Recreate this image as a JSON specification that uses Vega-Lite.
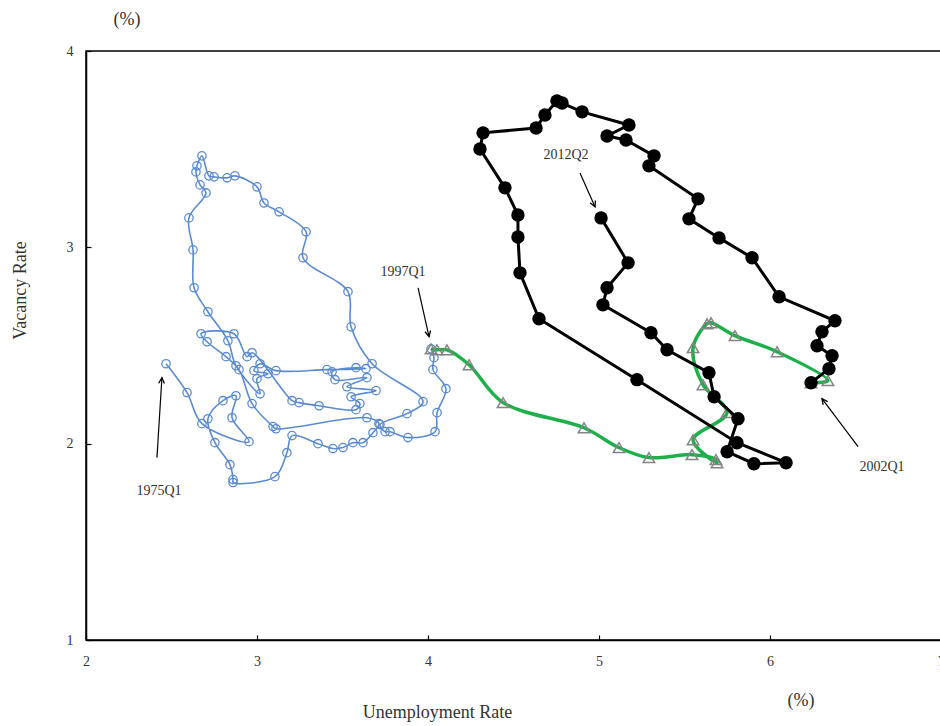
{
  "$schema": "https://vega.github.io/schema/vega-lite/v6.json",
  "width": 855,
  "height": 589,
  "autosize": {"type": "none"},
  "padding": {"left": 86, "top": 51, "right": 0, "bottom": 86},
  "background": "white",
  "config": {
    "view": {"stroke": "black", "strokeWidth": 1.5},
    "font": "Liberation Serif",
    "axis": {
      "grid": false,
      "domainColor": "black",
      "domainWidth": 1.5,
      "tickColor": "black",
      "tickWidth": 1.2,
      "labelFont": "Liberation Serif",
      "titleFont": "Liberation Serif",
      "labelFontSize": 14,
      "labelColor": "#333333",
      "titleColor": "#333333",
      "titleFontSize": 18,
      "titleFontWeight": "normal",
      "labelFlush": false,
      "labelOverlap": false
    }
  },
  "datasets": {
    "blue": [
      {"o":1,"x":2.468,"y":2.407},{"o":2,"x":2.591,"y":2.260},{"o":3,"x":2.678,"y":2.102},{"o":4,"x":2.953,"y":2.010},
      {"o":5,"x":2.854,"y":2.132},{"o":6,"x":2.877,"y":2.244},{"o":7,"x":2.801,"y":2.219},{"o":8,"x":2.713,"y":2.127},
      {"o":9,"x":2.754,"y":2.005},{"o":10,"x":2.842,"y":1.893},{"o":11,"x":2.860,"y":1.817},{"o":12,"x":2.860,"y":1.802},
      {"o":13,"x":3.105,"y":1.832},{"o":14,"x":3.175,"y":1.954},{"o":15,"x":3.205,"y":2.041},{"o":16,"x":3.357,"y":2.000},
      {"o":17,"x":3.444,"y":1.975},{"o":18,"x":3.503,"y":1.980},{"o":19,"x":3.561,"y":2.005},{"o":20,"x":3.620,"y":2.005},
      {"o":21,"x":3.678,"y":2.056},{"o":22,"x":3.713,"y":2.102},{"o":23,"x":3.643,"y":2.132},{"o":24,"x":3.111,"y":2.076},
      {"o":25,"x":3.094,"y":2.087},{"o":26,"x":2.971,"y":2.204},{"o":27,"x":2.895,"y":2.377},{"o":28,"x":2.819,"y":2.443},
      {"o":29,"x":2.708,"y":2.519},{"o":30,"x":2.673,"y":2.560},{"o":31,"x":2.865,"y":2.560},{"o":32,"x":2.942,"y":2.443},
      {"o":33,"x":2.971,"y":2.463},{"o":34,"x":3.205,"y":2.219},{"o":35,"x":3.246,"y":2.209},{"o":36,"x":3.363,"y":2.193},
      {"o":37,"x":3.579,"y":2.173},{"o":38,"x":3.602,"y":2.204},{"o":39,"x":3.550,"y":2.239},{"o":40,"x":3.696,"y":2.270},
      {"o":41,"x":3.526,"y":2.290},{"o":42,"x":3.643,"y":2.336},{"o":43,"x":3.456,"y":2.326},{"o":44,"x":3.439,"y":2.366},
      {"o":45,"x":3.579,"y":2.387},{"o":46,"x":3.637,"y":2.382},{"o":47,"x":3.409,"y":2.377},{"o":48,"x":3.111,"y":2.372},
      {"o":49,"x":3.018,"y":2.407},{"o":50,"x":2.982,"y":2.372},{"o":51,"x":3.064,"y":2.356},{"o":52,"x":3.000,"y":2.331},
      {"o":53,"x":3.018,"y":2.254},{"o":54,"x":2.877,"y":2.397},{"o":55,"x":2.830,"y":2.524},{"o":56,"x":2.713,"y":2.672},
      {"o":57,"x":2.632,"y":2.794},{"o":58,"x":2.626,"y":2.987},{"o":59,"x":2.602,"y":3.150},{"o":60,"x":2.702,"y":3.277},
      {"o":61,"x":2.667,"y":3.318},{"o":62,"x":2.643,"y":3.384},{"o":63,"x":2.649,"y":3.415},{"o":64,"x":2.678,"y":3.466},
      {"o":65,"x":2.719,"y":3.364},{"o":66,"x":2.749,"y":3.359},{"o":67,"x":2.825,"y":3.354},{"o":68,"x":2.871,"y":3.364},
      {"o":69,"x":3.000,"y":3.308},{"o":70,"x":3.041,"y":3.226},{"o":71,"x":3.129,"y":3.181},{"o":72,"x":3.287,"y":3.079},
      {"o":73,"x":3.269,"y":2.947},{"o":74,"x":3.532,"y":2.774},{"o":75,"x":3.550,"y":2.595},{"o":76,"x":3.673,"y":2.407},
      {"o":77,"x":3.971,"y":2.214},{"o":78,"x":3.877,"y":2.153},{"o":79,"x":3.719,"y":2.097},{"o":80,"x":3.749,"y":2.061},
      {"o":81,"x":3.778,"y":2.061},{"o":82,"x":3.883,"y":2.031},{"o":83,"x":4.041,"y":2.061},{"o":84,"x":4.053,"y":2.158},
      {"o":85,"x":4.105,"y":2.280},{"o":86,"x":4.029,"y":2.377},{"o":87,"x":4.035,"y":2.438},{"o":88,"x":4.018,"y":2.483}
    ],
    "green": [
      {"o":1,"x":4.018,"y":2.483},{"o":2,"x":4.053,"y":2.478},{"o":3,"x":4.111,"y":2.478},{"o":4,"x":4.240,"y":2.402},
      {"o":5,"x":4.439,"y":2.209},{"o":6,"x":4.912,"y":2.081},{"o":7,"x":5.117,"y":1.980},{"o":8,"x":5.292,"y":1.929},
      {"o":9,"x":5.544,"y":1.944},{"o":10,"x":5.684,"y":1.919},{"o":11,"x":5.690,"y":1.903},{"o":12,"x":5.550,"y":2.020},
      {"o":13,"x":5.749,"y":2.158},{"o":14,"x":5.608,"y":2.300},{"o":15,"x":5.550,"y":2.489},{"o":16,"x":5.632,"y":2.611},
      {"o":17,"x":5.655,"y":2.616},{"o":18,"x":5.795,"y":2.550},{"o":19,"x":6.041,"y":2.468},{"o":20,"x":6.339,"y":2.321},
      {"o":21,"x":6.240,"y":2.310}
    ],
    "black": [
      {"o":1,"x":6.240,"y":2.310},{"o":2,"x":6.345,"y":2.382},{"o":3,"x":6.363,"y":2.448},{"o":4,"x":6.275,"y":2.499},
      {"o":5,"x":6.304,"y":2.570},{"o":6,"x":6.380,"y":2.626},{"o":7,"x":6.053,"y":2.748},{"o":8,"x":5.895,"y":2.947},
      {"o":9,"x":5.702,"y":3.048},{"o":10,"x":5.526,"y":3.145},{"o":11,"x":5.579,"y":3.247},{"o":12,"x":5.292,"y":3.415},
      {"o":13,"x":5.322,"y":3.466},{"o":14,"x":5.158,"y":3.547},{"o":15,"x":5.047,"y":3.567},{"o":16,"x":5.175,"y":3.623},
      {"o":17,"x":4.901,"y":3.690},{"o":18,"x":4.784,"y":3.735},{"o":19,"x":4.754,"y":3.746},{"o":20,"x":4.684,"y":3.674},
      {"o":21,"x":4.632,"y":3.608},{"o":22,"x":4.322,"y":3.583},{"o":23,"x":4.304,"y":3.501},{"o":24,"x":4.450,"y":3.303},
      {"o":25,"x":4.526,"y":3.165},{"o":26,"x":4.526,"y":3.053},{"o":27,"x":4.538,"y":2.870},{"o":28,"x":4.649,"y":2.636},
      {"o":29,"x":5.222,"y":2.326},{"o":30,"x":5.807,"y":2.005},{"o":31,"x":6.094,"y":1.903},{"o":32,"x":5.906,"y":1.898},
      {"o":33,"x":5.749,"y":1.959},{"o":34,"x":5.813,"y":2.127},{"o":35,"x":5.673,"y":2.239},{"o":36,"x":5.643,"y":2.361},
      {"o":37,"x":5.398,"y":2.478},{"o":38,"x":5.304,"y":2.565},{"o":39,"x":5.023,"y":2.707},{"o":40,"x":5.047,"y":2.794},
      {"o":41,"x":5.170,"y":2.921},{"o":42,"x":5.012,"y":3.150}
    ],
    "notes": [
      {"label":"1975Q1","tx":2.427,"ty":1.761,"x":2.415,"y":1.929,"x2":2.444,"y2":2.336,"ang":3.6},
      {"label":"1997Q1","tx":3.854,"ty":2.875,"x":3.942,"y":2.794,"x2":4.006,"y2":2.545,"ang":167.3},
      {"label":"2012Q2","tx":4.807,"ty":3.471,"x":4.889,"y":3.379,"x2":4.977,"y2":3.206,"ang":156.2},
      {"label":"2002Q1","tx":6.655,"ty":1.883,"x":6.515,"y":1.985,"x2":6.304,"y2":2.229,"ang":-36.9}
    ],
    "units": [
      {"label":"(%)","x":2.240,"y":4.158},
      {"label":"(%)","x":6.181,"y":0.687}
    ]
  },
  "layer": [
    {
      "data": {"name": "blue"},
      "mark": {"type": "line", "interpolate": "catmull-rom", "stroke": "#5B8BCF", "strokeWidth": 1.6},
      "encoding": {
        "x": {"field": "x", "type": "quantitative", "scale": {"domain": [2, 7], "nice": false, "zero": false},
              "axis": {"values": [2,3,4,5,6,7], "format": "d", "tickSize": -5, "labelPadding": 19, "title": "Unemployment Rate", "titleX": 351, "titleY": 72, "titleAlign": "center", "titleBaseline": "middle"}},
        "y": {"field": "y", "type": "quantitative", "scale": {"domain": [1, 4], "nice": false, "zero": false},
              "axis": {"values": [1,2,3,4], "format": "d", "tickSize": -5, "labelPadding": 18, "title": "Vacancy Rate", "titleX": -66, "titleY": 239, "titleAlign": "center", "titleBaseline": "middle", "titleAngle": -90}},
        "order": {"field": "o", "type": "quantitative"}
      }
    },
    {
      "data": {"name": "blue"},
      "mark": {"type": "point", "shape": "circle", "filled": false, "stroke": "#5B8BCF", "strokeWidth": 1.3, "size": 70, "opacity": 1},
      "encoding": {
        "x": {"field": "x", "type": "quantitative"},
        "y": {"field": "y", "type": "quantitative"}
      }
    },
    {
      "data": {"name": "green"},
      "mark": {"type": "line", "interpolate": "catmull-rom", "stroke": "#1DAF4A", "strokeWidth": 3.5},
      "encoding": {
        "x": {"field": "x", "type": "quantitative"},
        "y": {"field": "y", "type": "quantitative"},
        "order": {"field": "o", "type": "quantitative"}
      }
    },
    {
      "data": {"name": "green"},
      "mark": {"type": "point", "shape": "triangle-up", "filled": false, "stroke": "#858585", "strokeWidth": 1.5, "size": 130, "opacity": 1},
      "encoding": {
        "x": {"field": "x", "type": "quantitative"},
        "y": {"field": "y", "type": "quantitative"}
      }
    },
    {
      "data": {"name": "black"},
      "mark": {"type": "line", "stroke": "black", "strokeWidth": 3},
      "encoding": {
        "x": {"field": "x", "type": "quantitative"},
        "y": {"field": "y", "type": "quantitative"},
        "order": {"field": "o", "type": "quantitative"}
      }
    },
    {
      "data": {"name": "black"},
      "mark": {"type": "point", "shape": "circle", "filled": true, "fill": "black", "size": 180, "opacity": 1},
      "encoding": {
        "x": {"field": "x", "type": "quantitative"},
        "y": {"field": "y", "type": "quantitative"}
      }
    },
    {
      "data": {"name": "notes"},
      "mark": {"type": "rule", "stroke": "black", "strokeWidth": 1.2},
      "encoding": {
        "x": {"field": "x", "type": "quantitative"},
        "y": {"field": "y", "type": "quantitative"},
        "x2": {"field": "x2"},
        "y2": {"field": "y2"}
      }
    },
    {
      "data": {"name": "notes"},
      "mark": {"type": "point", "shape": "M-0.5,1L0,0L0.5,1", "filled": false, "stroke": "black", "strokeWidth": 1.3, "size": 130, "opacity": 1},
      "encoding": {
        "x": {"field": "x2", "type": "quantitative"},
        "y": {"field": "y2", "type": "quantitative"},
        "angle": {"field": "ang", "type": "quantitative", "scale": null}
      }
    },
    {
      "data": {"name": "notes"},
      "mark": {"type": "text", "font": "Liberation Serif", "fontSize": 14, "fill": "#333333", "align": "center", "baseline": "middle"},
      "encoding": {
        "x": {"field": "tx", "type": "quantitative"},
        "y": {"field": "ty", "type": "quantitative"},
        "text": {"field": "label"}
      }
    },
    {
      "data": {"name": "units"},
      "mark": {"type": "text", "font": "Liberation Serif", "fontSize": 18, "fill": "#333333", "align": "center", "baseline": "middle"},
      "encoding": {
        "x": {"field": "x", "type": "quantitative"},
        "y": {"field": "y", "type": "quantitative"},
        "text": {"field": "label"}
      }
    }
  ]
}
